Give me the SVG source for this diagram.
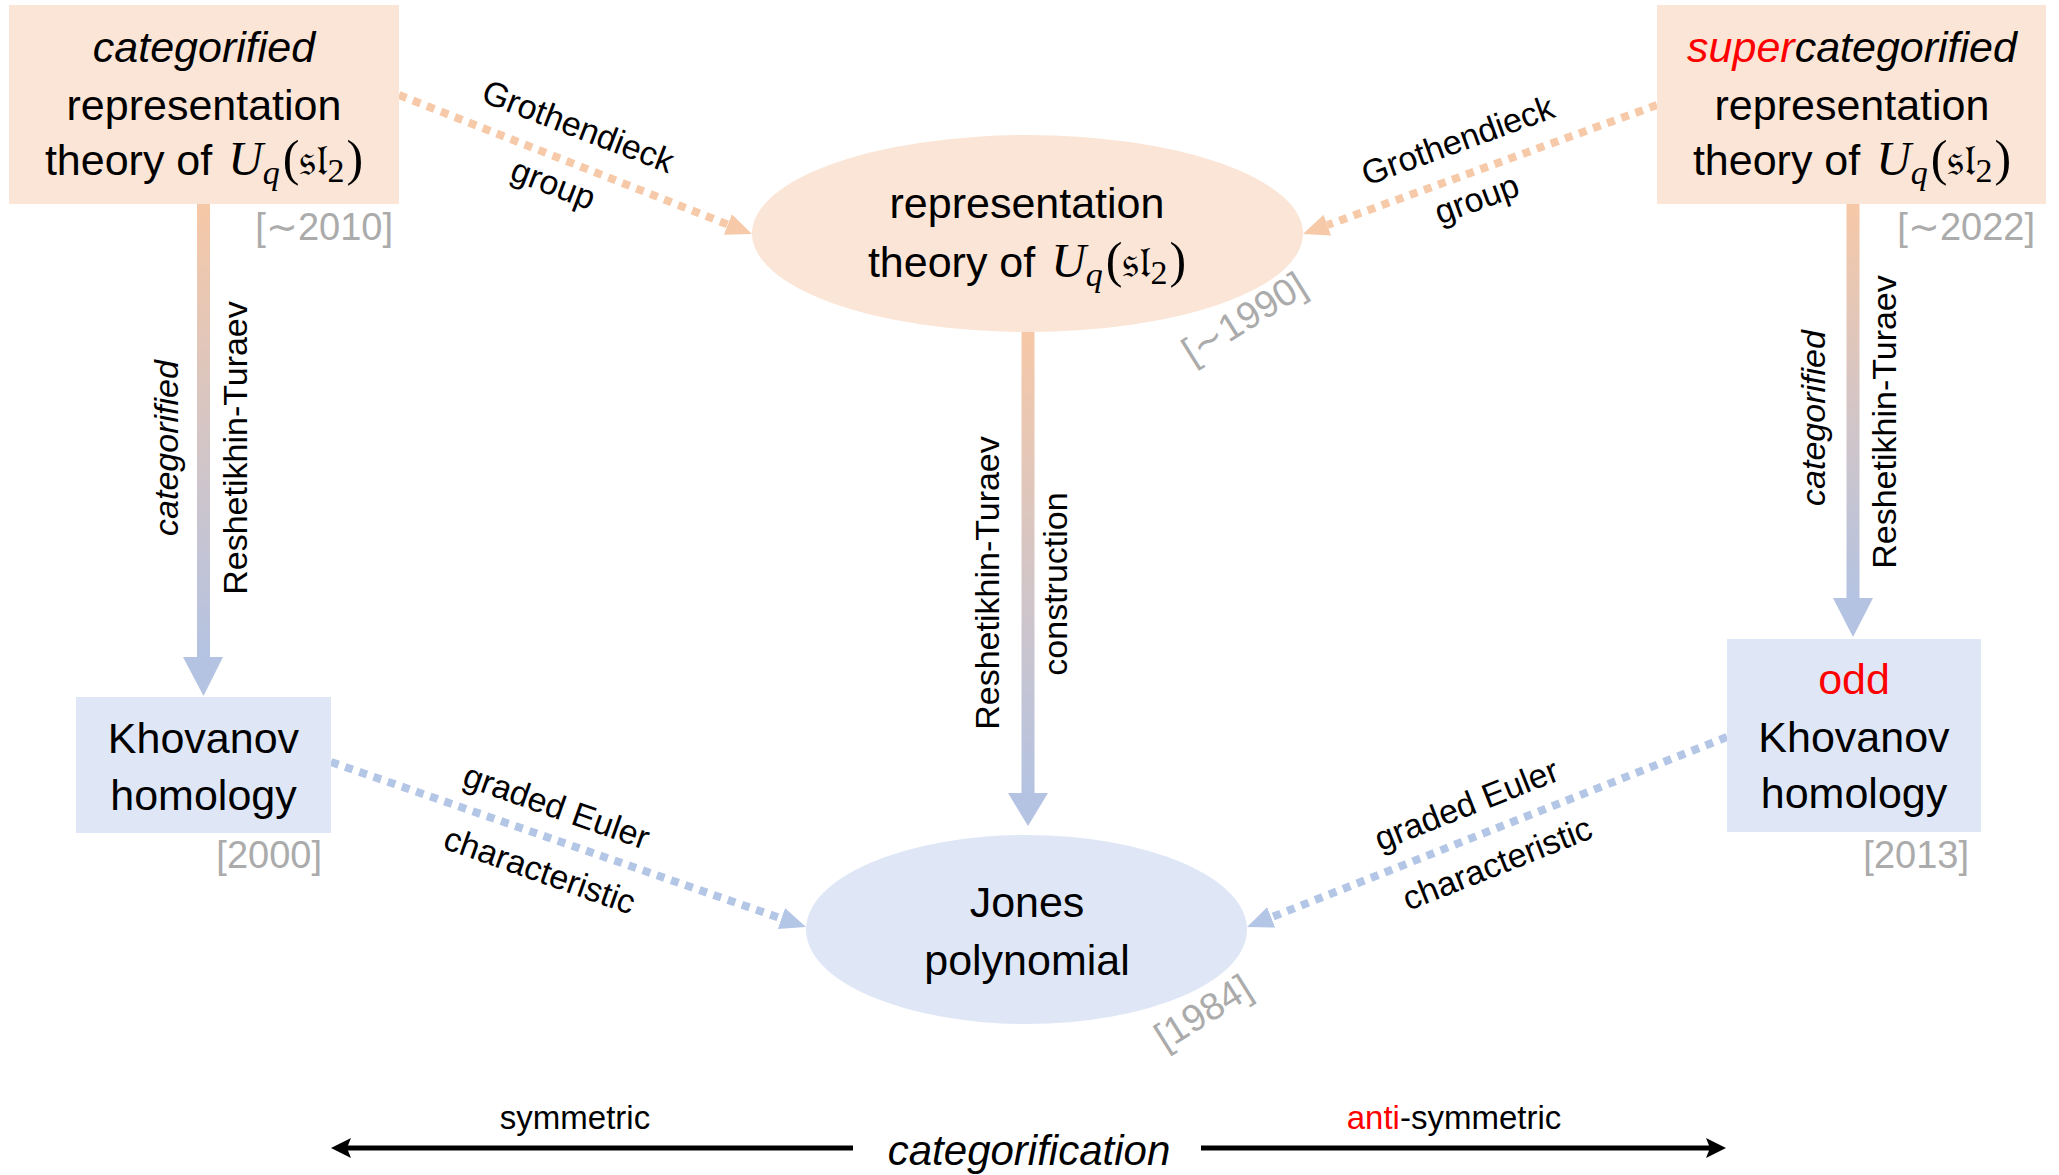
<svg xmlns="http://www.w3.org/2000/svg" width="2059" height="1175" viewBox="0 0 2059 1175">
<style>
.nt{font-family:"Liberation Sans",Arial,sans-serif;font-size:43px;fill:#000;text-anchor:middle}
.it{font-style:italic}
.red{fill:#ff0000}
.mi{font-family:"Liberation Serif","DejaVu Serif",serif;font-style:italic;font-size:48px}
.mr{font-family:"Liberation Serif","DejaVu Serif",serif;font-size:50px}
.fr{font-family:"DejaVu Serif","Noto Sans",serif;font-size:44px}
.sub{font-size:34px}
.lbl{font-family:"Liberation Sans",Arial,sans-serif;font-size:34px;fill:#000;text-anchor:middle}
.date{font-family:"Liberation Sans",Arial,sans-serif;font-size:38px;fill:#ababab}
.peach{fill:#fbe5d6}
.blue{fill:#dfe7f7}
.dotP{fill:none;stroke:#f6c9a9;stroke-width:8;stroke-dasharray:8 7}
.dotB{fill:none;stroke:#b4c6e6;stroke-width:8;stroke-dasharray:8 7}
.bot{font-family:"Liberation Sans",Arial,sans-serif;font-size:33px;fill:#000;text-anchor:middle}
</style>
<defs>
<linearGradient id="pb" x1="0" y1="0" x2="0" y2="1">
<stop offset="0" stop-color="#f6c8a7"/>
<stop offset="1" stop-color="#b4c3e2"/>
</linearGradient>
<marker id="mP" markerUnits="userSpaceOnUse" markerWidth="30" markerHeight="30" refX="0" refY="11" orient="auto">
<path d="M0,0 L26,11 L0,22 Z" fill="#f6c9a9"/>
</marker>
<marker id="mB" markerUnits="userSpaceOnUse" markerWidth="30" markerHeight="30" refX="0" refY="11" orient="auto">
<path d="M0,0 L26,11 L0,22 Z" fill="#b4c6e6"/>
</marker>
</defs>

<g id="connectors">
<rect x="197" y="203" width="13" height="457" fill="url(#pb)"/>
<polygon points="183,657 223,657 203.5,696" fill="#b4c3e2"/>
<rect x="1021.5" y="332" width="13" height="464" fill="url(#pb)"/>
<polygon points="1008,793 1048,793 1028,826" fill="#b4c3e2"/>
<rect x="1846.5" y="203" width="13" height="398" fill="url(#pb)"/>
<polygon points="1833,598 1873,598 1853,637" fill="#b4c3e2"/>

<path class="dotP" d="M399,95 L727.8,224.5" marker-end="url(#mP)"/>
<path class="dotP" d="M1657,105 L1327.4,225.1" marker-end="url(#mP)"/>
<path class="dotB" d="M331,762 L781.4,918.5" marker-end="url(#mB)"/>
<path class="dotB" d="M1727,737 L1271.2,917.4" marker-end="url(#mB)"/>

<text class="lbl it" transform="translate(178,448) rotate(-90)">categorified</text>
<text class="lbl" transform="translate(247,448) rotate(-90)">Reshetikhin-Turaev</text>
<text class="lbl" transform="translate(999,583) rotate(-90)">Reshetikhin-Turaev</text>
<text class="lbl" transform="translate(1067,584) rotate(-90)">construction</text>
<text class="lbl it" transform="translate(1825,418) rotate(-90)">categorified</text>
<text class="lbl" transform="translate(1896,422) rotate(-90)">Reshetikhin-Turaev</text>

<text class="lbl" transform="translate(578,127) rotate(21)" y="11">Grothendieck</text>
<text class="lbl" transform="translate(551,190) rotate(21)" y="5">group</text>
<text class="lbl" transform="translate(1458,141) rotate(-20)" y="11">Grothendieck</text>
<text class="lbl" transform="translate(1479,205) rotate(-20)" y="5">group</text>
<text class="lbl" transform="translate(556,808) rotate(19.5)" y="10">graded Euler</text>
<text class="lbl" transform="translate(540,870) rotate(19.5)" y="12">characteristic</text>
<text class="lbl" transform="translate(1467,806) rotate(-21.6)" y="10">graded Euler</text>
<text class="lbl" transform="translate(1497,863) rotate(-21.6)" y="12">characteristic</text>
</g>

<g id="n-cat">
<rect class="peach" x="9" y="5" width="390" height="199"/>
<text class="nt it" x="204" y="62">categorified</text>
<text class="nt" x="204" y="120">representation</text>
<text class="nt" x="204" y="175">theory of <tspan class="mi" dx="4">U</tspan><tspan class="mi sub" dy="9">q</tspan><tspan class="mr" dy="-9" dx="3">(</tspan><tspan class="fr">𝔰𝔩</tspan><tspan class="mr sub" dy="7">2</tspan><tspan class="mr" dy="-7" dx="2">)</tspan></text>
<text class="date" x="393" y="240" text-anchor="end">[∼2010]</text>
</g>

<g id="n-rep">
<ellipse class="peach" cx="1027.5" cy="233.5" rx="275.5" ry="98.5"/>
<text class="nt" x="1027" y="218">representation</text>
<text class="nt" x="1027" y="277">theory of <tspan class="mi" dx="4">U</tspan><tspan class="mi sub" dy="9">q</tspan><tspan class="mr" dy="-9" dx="3">(</tspan><tspan class="fr">𝔰𝔩</tspan><tspan class="mr sub" dy="7">2</tspan><tspan class="mr" dy="-7" dx="2">)</tspan></text>
<text class="date" transform="translate(1244,318) rotate(-32)" y="13" text-anchor="middle">[∼1990]</text>
</g>

<g id="n-super">
<rect class="peach" x="1657" y="5" width="389" height="199"/>
<text class="nt it" x="1852" y="62"><tspan class="red">super</tspan>categorified</text>
<text class="nt" x="1852" y="120">representation</text>
<text class="nt" x="1852" y="175">theory of <tspan class="mi" dx="4">U</tspan><tspan class="mi sub" dy="9">q</tspan><tspan class="mr" dy="-9" dx="3">(</tspan><tspan class="fr">𝔰𝔩</tspan><tspan class="mr sub" dy="7">2</tspan><tspan class="mr" dy="-7" dx="2">)</tspan></text>
<text class="date" x="2035" y="240" text-anchor="end">[∼2022]</text>
</g>

<g id="n-kh">
<rect class="blue" x="76" y="697" width="255" height="136"/>
<text class="nt" x="203.5" y="753">Khovanov</text>
<text class="nt" x="203.5" y="810">homology</text>
<text class="date" x="322" y="868" text-anchor="end">[2000]</text>
</g>

<g id="n-oddkh">
<rect class="blue" x="1727" y="639" width="254" height="193"/>
<text class="nt red" x="1854" y="694">odd</text>
<text class="nt" x="1854" y="752">Khovanov</text>
<text class="nt" x="1854" y="808">homology</text>
<text class="date" x="1969" y="868" text-anchor="end">[2013]</text>
</g>

<g id="n-jones">
<ellipse class="blue" cx="1026.5" cy="929.5" rx="220.5" ry="94.5"/>
<text class="nt" x="1027" y="917">Jones</text>
<text class="nt" x="1027" y="975">polynomial</text>
<text class="date" transform="translate(1203,1012) rotate(-32)" y="13" text-anchor="middle">[1984]</text>
</g>

<g id="axis">
<line x1="853" y1="1148" x2="345" y2="1148" stroke="#000" stroke-width="5"/>
<polygon points="331,1148 351,1138 347,1148 351,1158" fill="#000"/>
<line x1="1201" y1="1148" x2="1712" y2="1148" stroke="#000" stroke-width="5"/>
<polygon points="1726,1148 1706,1138 1710,1148 1706,1158" fill="#000"/>
<text class="bot" x="575" y="1129">symmetric</text>
<text class="bot" x="1454" y="1129"><tspan class="red">anti</tspan>-symmetric</text>
<text class="nt it" x="1029" y="1165" style="font-size:42px">categorification</text>
</g>
</svg>
